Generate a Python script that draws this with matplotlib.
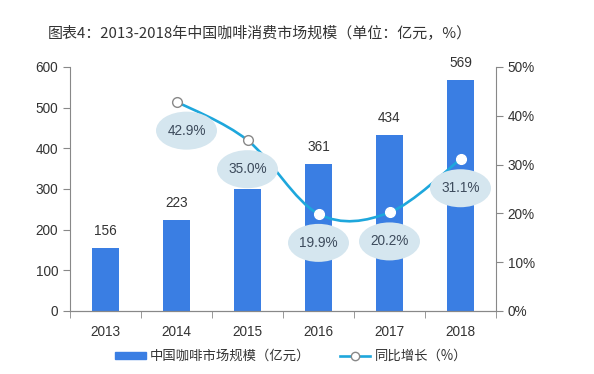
import numpy as np
import matplotlib
matplotlib.use("Agg")
import matplotlib.pyplot as plt
from matplotlib.path import Path
from matplotlib.patches import PathPatch, Patch, Ellipse
from matplotlib.lines import Line2D
from matplotlib.transforms import ScaledTranslation

plt.rcParams['font.family'] = ['Liberation Sans', 'Noto Sans CJK SC', 'DejaVu Sans']

# data
years = ['2013', '2014', '2015', '2016', '2017', '2018']
market = [156, 223, 301, 361, 434, 569]
bar_labels = ['156', '223', '', '361', '434', '569']
growth = [42.9, 35.0, 19.9, 20.2, 31.1]
growth_years = ['2014', '2015', '2016', '2017', '2018']

bar_color = '#3a7ee3'
line_color = '#1ea7dc'
text_color = '#333333'

fig = plt.figure(figsize=(5.94, 3.74), dpi=100)
ax = fig.add_axes([70 / 594, 1 - 311 / 374, (496 - 70) / 594, (311 - 67) / 374])
ax2 = ax.twinx()

x = np.arange(len(years))
ax.bar(x, market, width=0.38, color=bar_color, zorder=2)
for xi, v, lab in zip(x, market, bar_labels):
    if lab:
        ax.annotate(lab, (xi, v), xytext=(0, 10), textcoords='offset pixels',
                    ha='center', va='bottom', fontsize=9.8, color=text_color)

ax.set_xlim(-0.5, len(years) - 0.5)
ax.set_ylim(0, 600)
ax.set_yticks(range(0, 601, 100))
ax.set_xticks(x)
ax.set_xticklabels(years)
ax.set_xticks(np.arange(-0.5, len(years), 1), minor=True)
ax.tick_params(axis='x', which='major', length=0, pad=10, labelsize=9.8, labelcolor=text_color)
ax.tick_params(axis='x', which='minor', length=5, color='#888888', direction='out')
ax.tick_params(axis='y', length=5, color='#888888', labelsize=9.8, labelcolor=text_color)

ax2.set_ylim(0, 50)
ax2.set_yticks(range(0, 51, 10))
ax2.set_yticklabels([f'{t}%' for t in range(0, 51, 10)])
ax2.tick_params(axis='y', length=5, color='#888888', labelsize=9.8, labelcolor=text_color)

for a in (ax, ax2):
    a.spines['top'].set_visible(False)
    for s in ('left', 'right', 'bottom'):
        a.spines[s].set_color('#888888')
ax.spines['right'].set_visible(False)
ax2.spines['left'].set_visible(False)

# smoothed growth line (Catmull-Rom style bezier through the points)
gx = np.array([years.index(y) for y in growth_years], dtype=float)
gy = np.array(growth, dtype=float)
pts = np.column_stack([gx, gy])
verts = [pts[0]]
codes = [Path.MOVETO]
n = len(pts)
for i in range(n - 1):
    p0 = pts[i - 1] if i > 0 else pts[i]
    p1 = pts[i]
    p2 = pts[i + 1]
    p3 = pts[i + 2] if i + 2 < n else pts[i + 1]
    c1 = p1 + (p2 - p0) / 6
    c2 = p2 - (p3 - p1) / 6
    verts += [c1, c2, p2]
    codes += [Path.CURVE4] * 3
ax2.add_patch(PathPatch(Path(verts, codes), fill=False, ec=line_color, lw=1.9, zorder=3))

# value labels in light ellipses below each point
edge = ['#888888', '#888888', 'white', 'white', 'white']
label_dx = [10, 0, 0, 0, 0]
for xi, yi, ec, dx in zip(gx, gy, edge, label_dx):
    ax2.plot(xi, yi, 'o', ms=7, mfc='white', mec=ec, mew=1, zorder=4)
    tr = fig.dpi_scale_trans + ScaledTranslation(xi, yi, ax2.transData)
    ax2.add_artist(Ellipse((dx / 100, -0.29), 0.61, 0.38, transform=tr,
                           fc='#d5e6ef', ec='none', zorder=5))
    ax2.annotate(f'{yi:.1f}%', (xi, yi), xytext=(dx, -29), textcoords='offset pixels',
                 ha='center', va='center', fontsize=9.8, color='#3d4b5c', zorder=6)

fig.text(48 / 594, 1 - 33 / 374, '图表4：2013-2018年中国咖啡消费市场规模（单位：亿元，%）',
         fontsize=10.8, color=text_color, ha='left', va='center',
         family=['Noto Sans CJK SC', 'DejaVu Sans'])

handles = [Patch(color=bar_color),
           Line2D([], [], color=line_color, lw=1.9, marker='o', ms=6, mfc='white', mec='#888888')]
fig.legend(handles, ['中国咖啡市场规模（亿元）', '同比增长（%）'], loc='center',
           bbox_to_anchor=(0.49, 1 - 356 / 374), ncol=2, frameon=False,
           prop={'family': 'Noto Sans CJK SC', 'size': 9.6}, handlelength=2.3, handleheight=0.45,
           handletextpad=0.3, columnspacing=2.2, labelcolor=text_color)

fig.savefig('out.png', dpi=100)
